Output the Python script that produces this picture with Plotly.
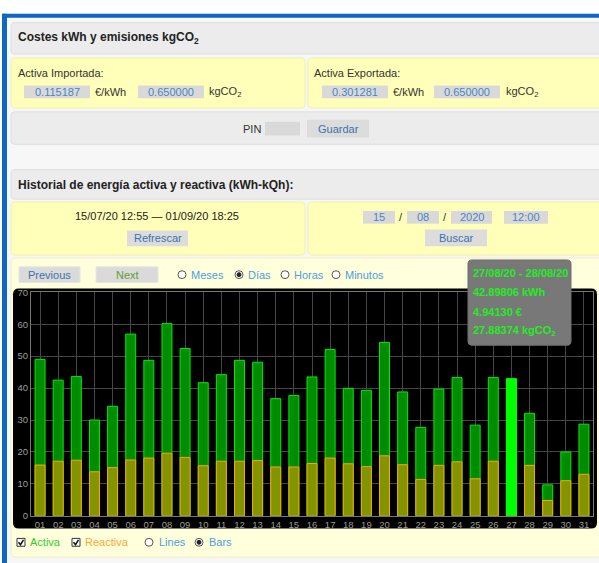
import plotly.graph_objects as go

# ---------------- data ----------------
days = ["01", "02", "03", "04", "05", "06", "07", "08", "09", "10",
        "11", "12", "13", "14", "15", "16", "17", "18", "19", "20",
        "21", "22", "23", "24", "25", "26", "27", "28", "29", "30", "31"]
activa = [49.0, 42.5, 43.6, 30.0, 34.3, 56.9, 48.7, 60.2, 52.4, 41.7,
          44.2, 48.7, 48.1, 36.7, 37.7, 43.5, 52.1, 39.9, 39.3, 54.3,
          38.8, 27.7, 39.7, 43.3, 28.4, 43.3, 42.9, 32.1, 9.7, 20.0, 28.7]
reactiva = [15.9, 17.1, 17.4, 13.8, 15.1, 17.5, 18.1, 19.6, 18.3, 15.7,
            17.1, 17.1, 17.3, 15.3, 15.3, 16.4, 18.1, 16.3, 15.4, 18.8,
            16.0, 11.4, 15.8, 16.9, 11.6, 17.1, 16.5, 15.8, 4.8, 11.0, 13.0]
highlight_day = "27"
y_ticks = [0, 10, 20, 30, 40, 50, 60, 70]
tooltip_lines = ["27/08/20 - 28/08/20", "42.89806 kWh", "4.94130 €",
                 "27.88374 kgCO<sub>2</sub>"]

# ---------------- helpers (pixel -> paper) ----------------
W, H = 599, 563
FONT = "Liberation Sans, Arial, sans-serif"


def X(p):
    return p / W


def Y(p):
    return 1 - p / H


def f(a, b):
    return f"{X(a):.5f},{Y(b):.5f}"


def rrect(x0, y0, x1, y1, r, fill, line=None, lw=1, layer="below"):
    path = (f"M {f(x0 + r, y0)} L {f(x1 - r, y0)} Q {f(x1, y0)} {f(x1, y0 + r)} "
            f"L {f(x1, y1 - r)} Q {f(x1, y1)} {f(x1 - r, y1)} L {f(x0 + r, y1)} "
            f"Q {f(x0, y1)} {f(x0, y1 - r)} L {f(x0, y0 + r)} Q {f(x0, y0)} {f(x0 + r, y0)} Z")
    return dict(type="path", xref="paper", yref="paper", path=path,
                fillcolor=fill, line=dict(color=line or fill, width=lw if line else 0),
                layer=layer)


def rect(x0, y0, x1, y1, fill, line=None, lw=1, layer="below"):
    return dict(type="rect", xref="paper", yref="paper",
                x0=X(x0), x1=X(x1), y0=Y(y1), y1=Y(y0),
                fillcolor=fill, line=dict(color=line or fill, width=lw if line else 0),
                layer=layer)


def circle(cx, cy, r, fill, line, lw=1):
    return dict(type="circle", xref="paper", yref="paper",
                x0=X(cx - r), x1=X(cx + r), y0=Y(cy + r), y1=Y(cy - r),
                fillcolor=fill, line=dict(color=line, width=lw), layer="above")


annotations = []


def txt(x, y, s, size=11, color="#333333", anchor="left", bold=False):
    if bold:
        s = "<b>" + s + "</b>"
    annotations.append(dict(x=X(x), y=Y(y), xref="paper", yref="paper", text=s,
                            showarrow=False, xanchor=anchor, yanchor="middle",
                            font=dict(family=FONT, size=size, color=color),
                            borderpad=0))


shapes = []
GRAYBOX = "#ececec"
GRAYLINE = "#dedede"
YEL = "#ffffb9"
YEL_LINE = "#f0f0b0"
YEL2 = "#ffffdc"
INPUT = "#d9d9d9"
BLUE_TXT = "#4a86c2"
BTN_TXT = "#3a72ad"
DARK = "#222222"

# page background and blue frame
shapes.append(rect(2, 8, 605, 568, "#f7f7f7"))
shapes.append(rect(2, 8, 605, 12, "#0d66c2"))
shapes.append(rect(2, 8, 7, 568, "#0d66c2"))

# header 1
shapes.append(rrect(11, 17, 610, 49, 4, GRAYBOX, GRAYLINE))
txt(17, 33, "Costes kWh y emisiones kgCO<sub>2</sub>", size=12, color=DARK, bold=True)

# yellow boxes row 1
shapes.append(rrect(11, 53, 305, 104, 4, YEL, YEL_LINE))
shapes.append(rrect(308, 53, 610, 104, 4, YEL, YEL_LINE))
txt(17, 68, "Activa Importada:", color="#333333")
txt(313, 68, "Activa Exportada:", color="#333333")
for (bx0, bx1, val) in [(24, 90, "0.115187"), (138, 204, "0.650000"),
                        (322, 388, "0.301281"), (434, 500, "0.650000")]:
    shapes.append(rect(bx0, 81, bx1, 94, INPUT))
    txt((bx0 + bx1) / 2, 88, val, color=BLUE_TXT, anchor="center")
txt(94, 88, "€/kWh", color="#333333")
txt(208, 88, "kgCO<sub>2</sub>", color="#333333")
txt(392, 88, "€/kWh", color="#333333")
txt(505, 88, "kgCO<sub>2</sub>", color="#333333")

# PIN row
shapes.append(rrect(11, 108, 610, 141, 4, GRAYBOX, GRAYLINE))
txt(262, 125, "PIN", color="#333333", anchor="right")
shapes.append(rect(265, 118, 300, 132, INPUT))
shapes.append(rect(307, 116, 369, 134, "#dcdcdc"))
txt(338, 125, "Guardar", color=BTN_TXT, anchor="center")

# header 2
shapes.append(rrect(11, 167, 610, 197, 4, GRAYBOX, GRAYLINE))
txt(17, 183, "Historial de energía activa y reactiva (kWh-kQh):", size=12,
    color=DARK, bold=True)

# yellow boxes row 2
shapes.append(rrect(11, 200, 305, 254, 4, YEL, YEL_LINE))
shapes.append(rrect(308, 200, 610, 254, 4, YEL, YEL_LINE))
txt(157, 214, "15/07/20 12:55 — 01/09/20 18:25", color=DARK, anchor="center")
shapes.append(rect(127, 229, 188, 245, "#dcdcdc"))
txt(157.5, 237, "Refrescar", color=BTN_TXT, anchor="center")
for (bx0, bx1, val) in [(363, 395, "15"), (407, 439, "08"),
                        (451, 492, "2020"), (504, 548, "12:00")]:
    shapes.append(rect(bx0, 209, bx1, 222, INPUT))
    txt((bx0 + bx1) / 2, 215.5, val, color=BLUE_TXT, anchor="center")
txt(401, 215.5, "/", color="#333333", anchor="center")
txt(444.5, 215.5, "/", color="#333333", anchor="center")
shapes.append(rect(425, 228, 487, 245, "#dcdcdc"))
txt(456, 237, "Buscar", color=BTN_TXT, anchor="center")

# chart panel
shapes.append(rrect(11, 257, 610, 562, 4, YEL2, "#eeeec8"))
shapes.append(rect(19, 266, 80, 282, "#dadada", "#e6e6e6"))
txt(49.5, 274, "Previous", color=BTN_TXT, anchor="center")
shapes.append(rect(96, 266, 158, 282, "#dadada", "#e6e6e6"))
txt(127, 274, "Next", color="#5c9e2e", anchor="center")
RADIO_TXT = "#4aa0dc"
for (cx, label, sel) in [(182, "Meses", False), (239, "Días", True),
                         (285, "Horas", False), (336, "Minutos", False)]:
    shapes.append(circle(cx, 274, 4, "#ffffff", "#555555"))
    if sel:
        shapes.append(circle(cx, 274, 2, "#222222", "#222222"))
    txt(cx + 8, 274, label, color=RADIO_TXT)

# black chart background
shapes.append(rrect(13, 288, 597, 533, 6, "#000000"))

# tooltip
shapes.append(rrect(468, 259, 571, 346, 4, "#787878", "#707070", layer="above"))
for i, line in enumerate(tooltip_lines):
    txt(472, [272, 292, 312, 331][i], line, size=11, color="#22ee22", bold=True)

# legend below chart
for (bx, label, col) in [(17, "Activa", "#33cc33"), (72, "Reactiva", "#ffa733")]:
    shapes.append(rect(bx, 543, bx + 8, 551, "#ffffff", "#333333", layer="above"))
    shapes.append(dict(type="path", xref="paper", yref="paper",
                       path=f"M {f(bx + 1.5, 547)} L {f(bx + 3.5, 549.5)} L {f(bx + 6.5, 544.5)}",
                       line=dict(color="#111111", width=1.5), layer="above"))
    txt(bx + 12, 547, label, color=col)
for (cx, label, sel) in [(149, "Lines", False), (199, "Bars", True)]:
    shapes.append(circle(cx, 547, 4, "#ffffff", "#555555"))
    if sel:
        shapes.append(circle(cx, 547, 2, "#222222", "#222222"))
    txt(cx + 9, 547, label, color=RADIO_TXT)

# ---------------- chart ----------------
hi_idx = days.index(highlight_day)
fig = go.Figure()
fig.add_trace(go.Bar(x=days, y=activa, width=0.55, name="Activa",
                     marker=dict(color="rgb(0,140,0)",
                                 line=dict(color="rgb(0,235,0)", width=1))))
fig.add_trace(go.Bar(x=days, y=reactiva, width=0.55, name="Reactiva",
                     marker=dict(color="rgb(130,148,0)",
                                 line=dict(color="rgb(255,165,0)", width=1))))
fig.add_trace(go.Bar(x=[highlight_day], y=[activa[hi_idx]], width=0.55,
                     marker=dict(color="#00ff00", line=dict(color="#00ff00", width=1))))

fig.update_layout(
    width=W, height=H,
    margin=dict(l=0, r=0, t=0, b=0),
    paper_bgcolor="#ffffff",
    plot_bgcolor="rgba(0,0,0,0)",
    barmode="overlay",
    showlegend=False,
    hovermode=False,
    shapes=shapes,
    annotations=annotations,
    xaxis=dict(type="category", domain=[X(31), X(593)], range=[-0.5, 30.5],
               showgrid=True, gridcolor="#464646", gridwidth=1,
               showline=True, linecolor="#777777", linewidth=1, mirror=True,
               ticks="", tickfont=dict(family=FONT, size=9.5, color="#9c9c9c"),
               fixedrange=True),
    yaxis=dict(domain=[Y(520), Y(292)], range=[0, 70], tickvals=y_ticks,
               showgrid=True, gridcolor="#464646", gridwidth=1, zeroline=False,
               showline=True, linecolor="#777777", linewidth=1, mirror=True,
               ticks="", tickfont=dict(family=FONT, size=9.5, color="#9c9c9c"),
               fixedrange=True),
)

fig.write_html(
    "out.html",
    config={"displayModeBar": False},
    post_script="document.body.style.margin='0';document.body.style.overflow='hidden';",
)
